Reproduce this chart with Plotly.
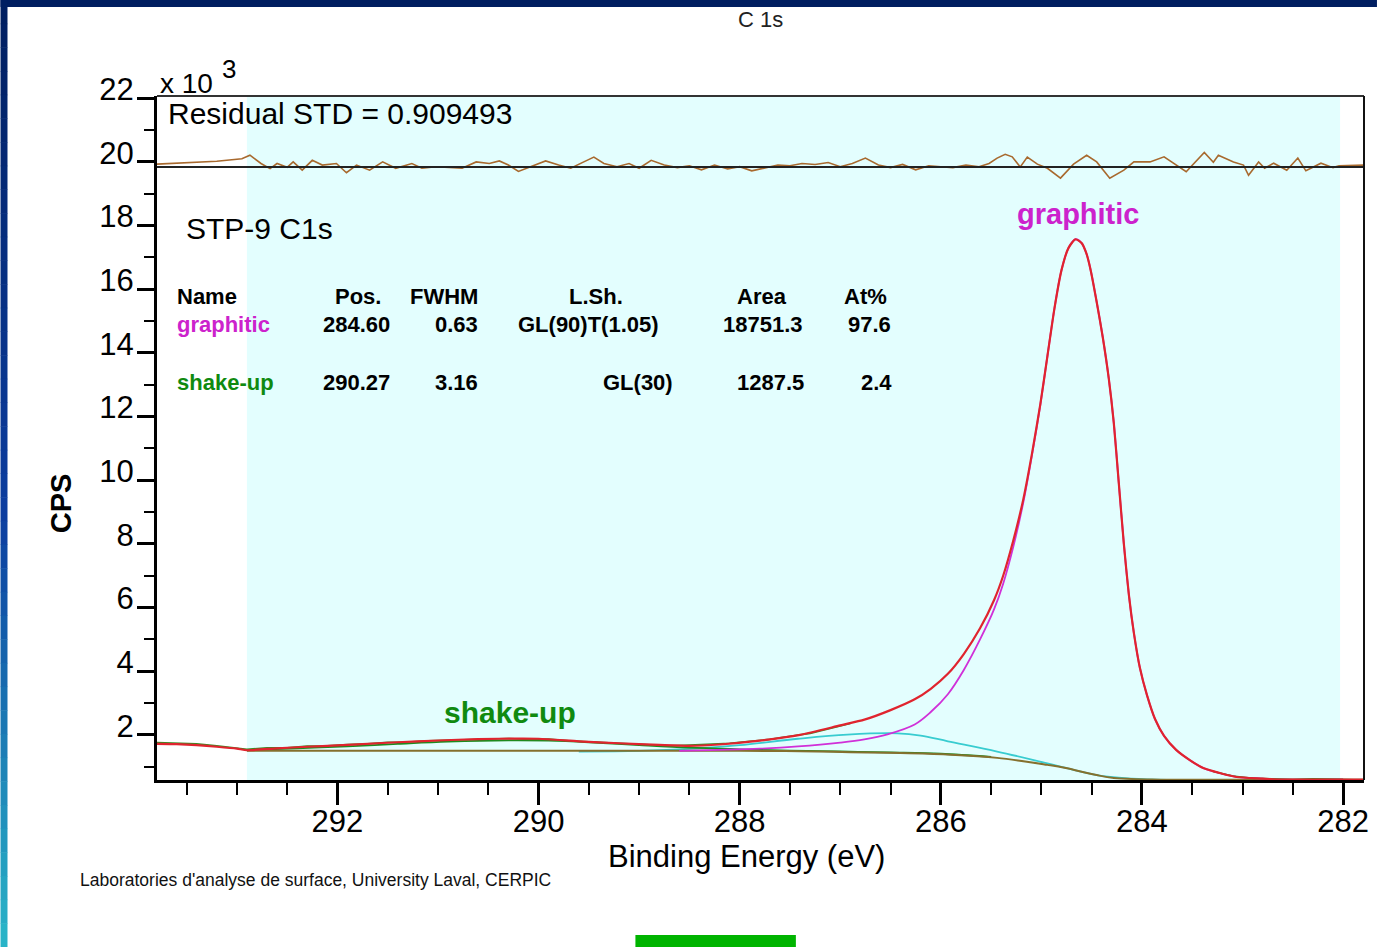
import plotly.graph_objects as go

# ---------------- data (binding energy in eV, intensity in CPS x 10^3) ----------------
env_x = [293.8, 293.6, 293.4, 293.2, 293.0, 292.9, 292.6, 292.3, 292.0, 291.6, 291.2, 290.8,
         290.4, 290.0, 289.6, 289.2, 288.8, 288.5, 288.2, 287.8, 287.4, 287.0, 286.76, 286.5,
         286.26, 286.1, 285.93, 285.77, 285.61, 285.47, 285.38, 285.28, 285.18, 285.09, 285.01,
         284.94, 284.87, 284.80, 284.73, 284.66, 284.60, 284.55, 284.51, 284.45, 284.39, 284.33,
         284.28, 284.23, 284.18, 284.13, 284.08, 284.02, 283.95, 283.87, 283.78, 283.66, 283.52,
         283.39, 283.2, 283.06, 282.8, 282.63, 282.3, 282.0, 281.8]
env_y = [1.72, 1.71, 1.68, 1.63, 1.57, 1.52, 1.58, 1.63, 1.67, 1.74, 1.80, 1.85,
         1.88, 1.88, 1.80, 1.74, 1.69, 1.66, 1.70, 1.82, 2.00, 2.30, 2.48, 2.78,
         3.12, 3.45, 3.92, 4.55, 5.35, 6.24, 7.00, 8.10, 9.40, 10.90, 12.40,
         13.90, 15.40, 16.60, 17.30, 17.57, 17.45, 17.10, 16.60, 15.60, 14.50, 13.20,
         11.80, 9.90, 8.00, 6.40, 5.20, 4.10, 3.25, 2.50, 1.97, 1.53, 1.20,
         0.96, 0.78, 0.68, 0.63, 0.60, 0.60, 0.60, 0.60]

# raw data (the peak itself is hidden under the envelope, so it is left out)
data_x = [293.8, 293.6, 293.4, 293.2, 293.0, 292.9, 292.7, 292.5, 292.3, 292.1, 291.9, 291.7,
          291.5, 291.3, 291.1, 290.9, 290.7, 290.5, 290.3, 290.1, 289.9, 289.7, 289.5, 289.3,
          289.1, 288.9, 288.7, 288.5, 288.3, 288.1, 287.9, 287.7, 287.5, 287.3, 287.1, 286.9,
          None, 283.3, 283.1, 282.9, 282.7, 282.5, 282.3, 282.1, 281.9, 281.8]
data_y = [1.76, 1.74, 1.72, 1.66, 1.60, 1.55, 1.60, 1.60, 1.65, 1.66, 1.70, 1.72,
          1.77, 1.78, 1.82, 1.84, 1.86, 1.87, 1.89, 1.86, 1.87, 1.82, 1.79, 1.76,
          1.73, 1.71, 1.66, 1.68, 1.70, 1.74, 1.80, 1.86, 1.96, 2.05, 2.20, 2.36,
          None, 0.86, 0.71, 0.64, 0.62, 0.60, 0.62, 0.60, 0.60, 0.60]

graphitic_x = [288.6, 288.2, 287.8, 287.42, 287.0, 286.76, 286.53, 286.26, 286.1, 285.93, 285.77,
               285.61, 285.47, 285.38, 285.28, 285.18, 285.09, 285.01, 284.94, 284.87, 284.80,
               284.73, 284.66, 284.60, 284.55, 284.51, 284.45, 284.39, 284.33, 284.28, 284.23,
               284.18, 284.13, 284.08, 284.02, 283.95, 283.87, 283.78, 283.66, 283.52, 283.39,
               283.2, 283.06, 282.8, 282.63, 282.3, 282.0]
graphitic_y = [1.50, 1.53, 1.57, 1.64, 1.76, 1.86, 2.02, 2.33, 2.72, 3.28, 4.05,
               5.00, 5.95, 6.75, 7.90, 9.30, 10.85, 12.38, 13.90, 15.40, 16.60,
               17.30, 17.57, 17.45, 17.10, 16.60, 15.60, 14.50, 13.20, 11.80, 9.90,
               8.00, 6.40, 5.20, 4.10, 3.25, 2.50, 1.97, 1.53, 1.20, 0.96,
               0.78, 0.68, 0.63, 0.60, 0.60, 0.60]

shakeup_x = [292.9, 292.4, 291.9, 291.4, 290.9, 290.3, 289.9, 289.5, 289.0, 288.5, 288.0,
             287.5, 287.0, 286.5, 286.0, 285.5]
shakeup_y = [1.52, 1.58, 1.64, 1.72, 1.79, 1.83, 1.82, 1.77, 1.68, 1.60, 1.55,
             1.51, 1.48, 1.45, 1.41, 1.31]

cyan_x = [289.6, 289.0, 288.5, 288.0, 287.42, 286.93, 286.43, 286.2, 285.93, 285.44, 284.94,
          284.45, 284.1, 283.75]
cyan_y = [1.48, 1.50, 1.56, 1.68, 1.88, 2.01, 2.05, 1.98, 1.80, 1.48, 1.11,
          0.74, 0.63, 0.59]

bg_x = [292.9, 290.0, 288.0, 287.4, 286.9, 286.4, 285.9, 285.44, 284.94, 284.77, 284.45,
        284.28, 283.9, 283.0, 282.0]
bg_y = [1.50, 1.50, 1.50, 1.49, 1.46, 1.43, 1.38, 1.28, 1.06, 0.97, 0.74,
        0.65, 0.60, 0.59, 0.59]

resid_x = [293.8, 293.5, 293.2, 292.95, 292.87, 292.76, 292.67, 292.6, 292.5, 292.44, 292.35,
           292.25, 292.15, 292.01, 291.91, 291.81, 291.68, 291.55, 291.42, 291.26, 291.16,
           291.02, 290.89, 290.76, 290.62, 290.49, 290.39, 290.3, 290.2, 290.07, 289.93,
           289.8, 289.68, 289.55, 289.45, 289.35, 289.22, 289.1, 289.0, 288.88, 288.75,
           288.62, 288.5, 288.38, 288.25, 288.12, 288.0, 287.88, 287.75, 287.62, 287.5,
           287.38, 287.25, 287.12, 287.0, 286.88, 286.75, 286.62, 286.5, 286.38, 286.25,
           286.12, 286.0, 285.88, 285.75, 285.62, 285.52, 285.44, 285.36, 285.29, 285.21,
           285.14, 285.04, 284.94, 284.81, 284.68, 284.55, 284.45, 284.32, 284.18, 284.08,
           283.92, 283.78, 283.66, 283.56, 283.38, 283.29, 283.24, 283.09, 282.99, 282.94,
           282.84, 282.78, 282.69, 282.56, 282.45, 282.37, 282.22, 282.1, 282.04, 281.79]
resid_y = [19.93, 19.97, 20.02, 20.10, 20.21, 19.95, 19.79, 19.95, 19.83, 20.00, 19.74,
           20.05, 19.90, 19.95, 19.66, 19.90, 19.74, 20.00, 19.80, 19.95, 19.80,
           19.85, 19.83, 19.80, 20.00, 19.95, 20.03, 19.90, 19.70, 19.87, 20.03,
           19.90, 19.80, 20.00, 20.15, 19.95, 19.85, 19.95, 19.80, 20.05, 19.90,
           19.82, 19.88, 19.75, 19.90, 19.78, 19.85, 19.72, 19.80, 19.90, 19.88,
           19.95, 19.92, 19.98, 19.85, 19.95, 20.12, 19.90, 19.82, 19.92, 19.75,
           19.88, 19.85, 19.82, 19.90, 19.85, 19.95, 20.12, 20.24, 20.16, 19.84,
           20.15, 19.93, 19.80, 19.49, 19.93, 20.21, 20.00, 19.49, 19.74, 20.00,
           20.00, 20.16, 19.90, 19.69, 20.30, 19.99, 20.21, 20.00, 19.90, 19.58,
           20.00, 19.80, 19.96, 19.74, 20.12, 19.72, 19.96, 19.82, 19.88, 19.90]
resid_zero = 19.84

region_lo, region_hi = 282.03, 292.90

x_ticks = [282, 284, 286, 288, 290, 292]
y_ticks = [2, 4, 6, 8, 10, 12, 14, 16, 18, 20, 22]

table_header = ["Name", "Pos.", "FWHM", "L.Sh.", "Area", "At%"]
peak_names = ["graphitic", "shake-up"]
peak_pos = ["284.60", "290.27"]
peak_fwhm = ["0.63", "3.16"]
peak_lsh = ["GL(90)T(1.05)", "GL(30)"]
peak_area = ["18751.3", "1287.5"]
peak_at = ["97.6", "2.4"]

# ---------------- layout helpers ----------------
W, H = 1381, 947
L, R, T, B = 157, 1368, 96, 780
FONT = "Liberation Sans, Arial, sans-serif"
MAG = "#CC22CC"
GRN = "#108A10"


def px(xp):
    return (xp - L) / (R - L)


def py(yp):
    return (B - yp) / (B - T)


fig = go.Figure()

fig.add_trace(go.Scatter(x=cyan_x, y=cyan_y, mode="lines", line=dict(color="#38CCD0", width=1.8, shape="spline"), hoverinfo="skip"))
fig.add_trace(go.Scatter(x=shakeup_x, y=shakeup_y, mode="lines", line=dict(color="#1E8A1E", width=1.8, shape="spline"), hoverinfo="skip"))
fig.add_trace(go.Scatter(x=bg_x, y=bg_y, mode="lines", line=dict(color="#85702E", width=2, shape="spline"), hoverinfo="skip"))
fig.add_trace(go.Scatter(x=graphitic_x, y=graphitic_y, mode="lines", line=dict(color="#D030D8", width=1.8, shape="spline"), hoverinfo="skip"))
fig.add_trace(go.Scatter(x=data_x, y=data_y, mode="lines", connectgaps=False, line=dict(color="#3C8A24", width=1.6), hoverinfo="skip"))
fig.add_trace(go.Scatter(x=env_x, y=env_y, mode="lines", line=dict(color="#E0242E", width=2.2, shape="spline", smoothing=0.6), hoverinfo="skip"))
fig.add_trace(go.Scatter(x=resid_x, y=resid_y, mode="lines", line=dict(color="#A8692E", width=1.6), hoverinfo="skip"))

shapes = []
# shaded fitting region
shapes.append(dict(type="rect", xref="x", yref="paper", x0=region_hi, x1=region_lo, y0=0, y1=1,
                   fillcolor="#E3FEFE", line=dict(width=0), layer="below"))
# residual zero line
shapes.append(dict(type="line", xref="paper", yref="y", x0=0, x1=1, y0=resid_zero, y1=resid_zero,
                   line=dict(color="#222222", width=2)))
# top / right frame
shapes.append(dict(type="line", xref="paper", yref="paper", x0=0, x1=1, y0=1, y1=1, line=dict(color="#333333", width=2)))
shapes.append(dict(type="line", xref="paper", yref="paper", x0=1, x1=1, y0=0, y1=1, line=dict(color="#111111", width=2)))
# page decoration: top band, left gradient band, green bar
shapes.append(dict(type="rect", xref="paper", yref="paper", x0=px(0), x1=px(W), y0=py(0), y1=py(7),
                   fillcolor="#001E60", line=dict(width=0)))
n = 40
stops = [(0.0, (0, 30, 96)), (0.55, (12, 62, 160)), (1.0, (42, 182, 200))]
for i in range(n):
    t = (i + 0.5) / n
    for (t0, c0), (t1, c1) in zip(stops[:-1], stops[1:]):
        if t0 <= t <= t1:
            f = (t - t0) / (t1 - t0)
            c = tuple(int(round(a + (b - a) * f)) for a, b in zip(c0, c1))
            break
    shapes.append(dict(type="rect", xref="paper", yref="paper", x0=px(0), x1=px(7),
                       y0=py(H * i / n), y1=py(H * (i + 1) / n + 0.5),
                       fillcolor="rgb(%d,%d,%d)" % c, line=dict(width=0)))
shapes.append(dict(type="rect", xref="paper", yref="paper", x0=px(637), x1=px(798), y0=py(935), y1=py(947),
                   fillcolor="#00B400", line=dict(width=0)))

ann = []


def text(t, xp, yp, size, color="black", anchor="left", bold=False, angle=0):
    ann.append(dict(xref="paper", yref="paper", x=px(xp), y=py(yp), xanchor=anchor, yanchor="middle",
                    text=("<b>%s</b>" % t) if bold else t, showarrow=False, textangle=angle,
                    font=dict(family=FONT, size=size, color=color)))


text("C 1s", 762, 20, 22, "#222222", "center")
text("x 10", 158, 84, 28)
text("3", 220, 69, 26)
text("Residual STD = 0.909493", 166, 114, 30)
text("STP-9 C1s", 184, 229, 30)
text("Binding Energy (eV)", 748, 856, 31, anchor="center")
text("CPS", 61, 503, 29, anchor="center", bold=True, angle=-90)
text("Laboratories d'analyse de surface, University Laval, CERPIC", 78, 880, 17.5, "#111111")

# fit table
TS = 22
hdr_pos = [(175, "left"), (359, "center"), (481, "right"), (597, "center"), (764, "center"), (868, "center")]
for h, (xp, a) in zip(table_header, hdr_pos):
    text(h, xp, 296, TS, anchor=a, bold=True)
row_y = [324, 382]
row_cols = [[393, 481, 663, 807, 895], [393, 481, 677, 808, 896]]
name_colors = [MAG, GRN]
for i in range(2):
    text(peak_names[i], 175, row_y[i], TS, name_colors[i], bold=True)
    vals = [peak_pos[i], peak_fwhm[i], peak_lsh[i], peak_area[i], peak_at[i]]
    for v, xp in zip(vals, row_cols[i]):
        text(v, xp, row_y[i], TS, anchor="right", bold=True)

text("graphitic", 1081, 214, 29, MAG, "center", bold=True)
text("shake-up", 511, 712, 30, GRN, "center", bold=True)

fig.update_layout(
    width=W, height=H,
    margin=dict(l=L, r=W - R, t=T, b=H - B, pad=0),
    paper_bgcolor="white", plot_bgcolor="white",
    showlegend=False,
    shapes=shapes, annotations=ann,
    font=dict(family=FONT, color="black"),
    xaxis=dict(range=[293.794, 281.792], tickvals=x_ticks, ticktext=[str(v) for v in x_ticks],
               ticks="outside", ticklen=22, tickwidth=3, tickcolor="black",
               showline=True, linewidth=3, linecolor="black", showgrid=False, zeroline=False,
               tickfont=dict(family=FONT, size=31, color="black"), ticklabelstandoff=-10,
               minor=dict(dtick=0.5, tick0=0, ticks="outside", ticklen=12, tickwidth=2,
                          tickcolor="black", showgrid=False)),
    yaxis=dict(range=[0.585, 22.07], tickvals=y_ticks, ticktext=[str(v) for v in y_ticks],
               ticks="outside", ticklen=17, tickwidth=2.5, tickcolor="black",
               showline=True, linewidth=3, linecolor="black", showgrid=False, zeroline=False,
               tickfont=dict(family=FONT, size=31, color="black"), ticklabelshift=-9,
               ticklabelstandoff=-3,
               minor=dict(dtick=1, tick0=0, ticks="outside", ticklen=10, tickwidth=2,
                          tickcolor="black", showgrid=False)),
)

fig.write_html("out.html")
